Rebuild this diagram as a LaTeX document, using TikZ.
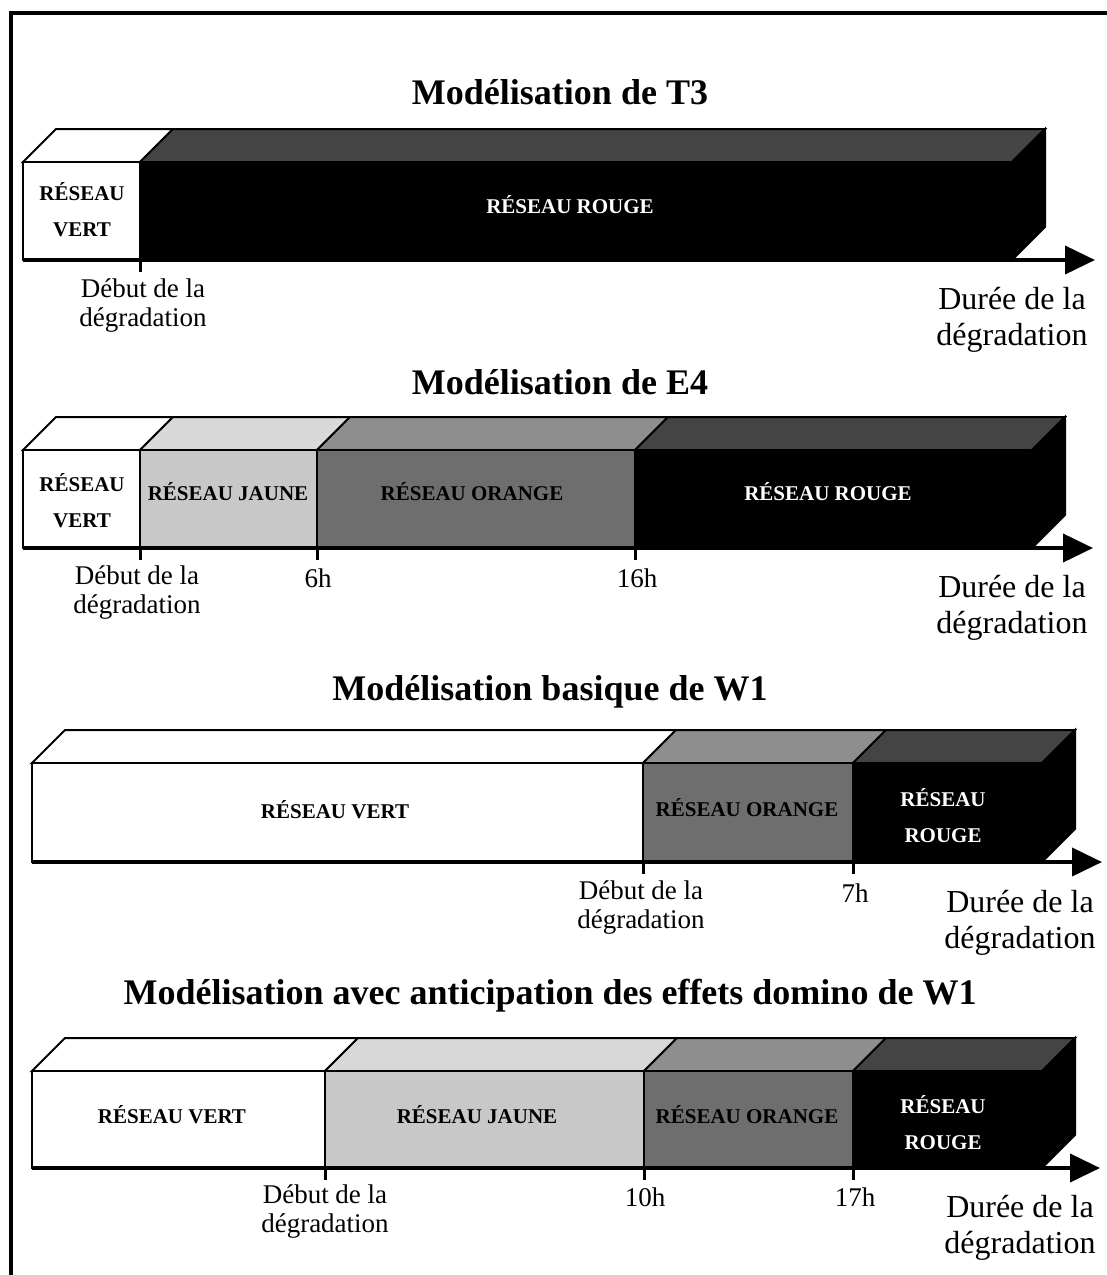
\documentclass[tikz,border=0pt]{standalone}
\usepackage{fontspec}
\setmainfont{Liberation Serif}
\usetikzlibrary{arrows.meta}

\definecolor{jaunefront}{HTML}{C8C8C8}
\definecolor{jaunetop}{HTML}{D8D8D8}
\definecolor{orangefront}{HTML}{6E6E6E}
\definecolor{orangetop}{HTML}{8E8E8E}
\definecolor{rougetop}{HTML}{444444}

\tikzset{
  outline/.style={draw=black, line width=2pt, line join=miter},
  axe/.style={line width=4pt, -{Triangle[length=30pt,width=28pt]}},
  tickmark/.style={line width=3pt},
  titre/.style={font=\fontsize{36}{40}\selectfont\bfseries},
  etiq/.style={font=\fontsize{21}{36}\selectfont\bfseries, align=center},
  repere/.style={font=\fontsize{27}{29}\selectfont, align=center},
  duree/.style={font=\fontsize{32}{36}\selectfont, align=center},
}

% one segment of a bar: x1, x2, front top, front bottom, front fill, top fill
\newcommand\bloc[6]{%
  \filldraw[outline, fill=#6] (#1,#3) -- ++(33,-33) -- ({#2+33},{#3-33}) -- (#2,#3) -- cycle;
  \filldraw[outline, fill=#5] (#1,#3) rectangle (#2,#4);
}
% right-hand side face of a bar: x, front top, front bottom
\newcommand\cote[3]{%
  \filldraw[outline, fill=black] (#1,#2) -- ++(33,-33) -- ({#1+33},{#3-33}) -- (#1,#3) -- cycle;
}

\begin{document}
\begin{tikzpicture}[x=1pt,y=-1pt]
\useasboundingbox (0,0) rectangle (1107,1275);
\fill[white] (0,0) rectangle (1107,1275);

% frame
\draw[line width=4pt] (11,1280) -- (11,13) -- (1112,13);

% ---------- T3 ----------
\node[titre] (t1) at (560,92) {Modélisation de T3};
\bloc{23}{140}{162}{260}{white}{white}
\bloc{140}{1012}{162}{260}{black}{rougetop}
\cote{1012}{162}{260}
\coordinate (a1s) at (23,260);
\coordinate (a1e) at (1095,260);
\draw[axe] (a1s) -- (a1e);
\coordinate (k1a) at (140,260);
\draw[tickmark] (k1a) -- ++(0,12);
\node[etiq] (v1) at (82,210) {RÉSEAU\\VERT};
\node[etiq, text=white] (r1) at (570,205) {RÉSEAU ROUGE};
\node[repere] (d1) at (143,306) {Début de la\\dégradation};
\node[duree] (u1) at (1012,320) {Durée de la\\dégradation};

% ---------- E4 ----------
\node[titre] (t2) at (560,382) {Modélisation de E4};
\bloc{23}{140}{450}{548}{white}{white}
\bloc{140}{317}{450}{548}{jaunefront}{jaunetop}
\bloc{317}{635}{450}{548}{orangefront}{orangetop}
\bloc{635}{1032}{450}{548}{black}{rougetop}
\cote{1032}{450}{548}
\coordinate (a2s) at (23,548);
\coordinate (a2e) at (1093,548);
\draw[axe] (a2s) -- (a2e);
\coordinate (k2a) at (140,548);
\coordinate (k2b) at (317,548);
\coordinate (k2c) at (635,548);
\foreach \k in {k2a,k2b,k2c} \draw[tickmark] (\k) -- ++(0,12);
\node[etiq] (v2) at (82,501) {RÉSEAU\\VERT};
\node[etiq] (j2) at (228,492) {RÉSEAU JAUNE};
\node[etiq] (o2) at (472,492) {RÉSEAU ORANGE};
\node[etiq, text=white] (r2) at (828,492) {RÉSEAU ROUGE};
\node[repere] (d2) at (137,593) {Début de la\\dégradation};
\node[repere, anchor=base] (h2a) at (318,587) {6h};
\node[repere, anchor=base] (h2b) at (637,587) {16h};
\node[duree] (u2) at (1012,608) {Durée de la\\dégradation};

% ---------- W1 basique ----------
\node[titre] (t3) at (550,692) {Modélisation basique de W1};
\bloc{32}{643}{763}{862}{white}{white}
\bloc{643}{853}{763}{862}{orangefront}{orangetop}
\bloc{853}{1042}{763}{862}{black}{rougetop}
\cote{1042}{763}{862}
\coordinate (a3s) at (32,862);
\coordinate (a3e) at (1102,862);
\draw[axe] (a3s) -- (a3e);
\coordinate (k3a) at (643,862);
\coordinate (k3b) at (853,862);
\foreach \k in {k3a,k3b} \draw[tickmark] (\k) -- ++(0,12);
\node[etiq] (v3) at (335,810) {RÉSEAU VERT};
\node[etiq] (o3) at (747,808) {RÉSEAU ORANGE};
\node[etiq, text=white] (r3) at (943,816) {RÉSEAU\\ROUGE};
\node[repere] (d3) at (641,908) {Début de la\\dégradation};
\node[repere, anchor=base] (h3a) at (855,902) {7h};
\node[duree] (u3) at (1020,923) {Durée de la\\dégradation};

% ---------- W1 avec anticipation ----------
\node[titre] (t4) at (550,996) {Modélisation avec anticipation des effets domino de W1};
\bloc{32}{325}{1071}{1168}{white}{white}
\bloc{325}{644}{1071}{1168}{jaunefront}{jaunetop}
\bloc{644}{853}{1071}{1168}{orangefront}{orangetop}
\bloc{853}{1042}{1071}{1168}{black}{rougetop}
\cote{1042}{1071}{1168}
\coordinate (a4s) at (32,1168);
\coordinate (a4e) at (1100,1168);
\draw[axe] (a4s) -- (a4e);
\coordinate (k4a) at (325,1168);
\coordinate (k4b) at (644,1168);
\coordinate (k4c) at (853,1168);
\foreach \k in {k4a,k4b,k4c} \draw[tickmark] (\k) -- ++(0,12);
\node[etiq] (v4) at (172,1115) {RÉSEAU VERT};
\node[etiq] (j4) at (477,1115) {RÉSEAU JAUNE};
\node[etiq] (o4) at (747,1115) {RÉSEAU ORANGE};
\node[etiq, text=white] (r4) at (943,1123) {RÉSEAU\\ROUGE};
\node[repere] (d4) at (325,1212) {Début de la\\dégradation};
\node[repere, anchor=base] (h4a) at (645,1206) {10h};
\node[repere, anchor=base] (h4b) at (855,1206) {17h};
\node[duree] (u4) at (1020,1228) {Durée de la\\dégradation};
\end{tikzpicture}
\end{document}
